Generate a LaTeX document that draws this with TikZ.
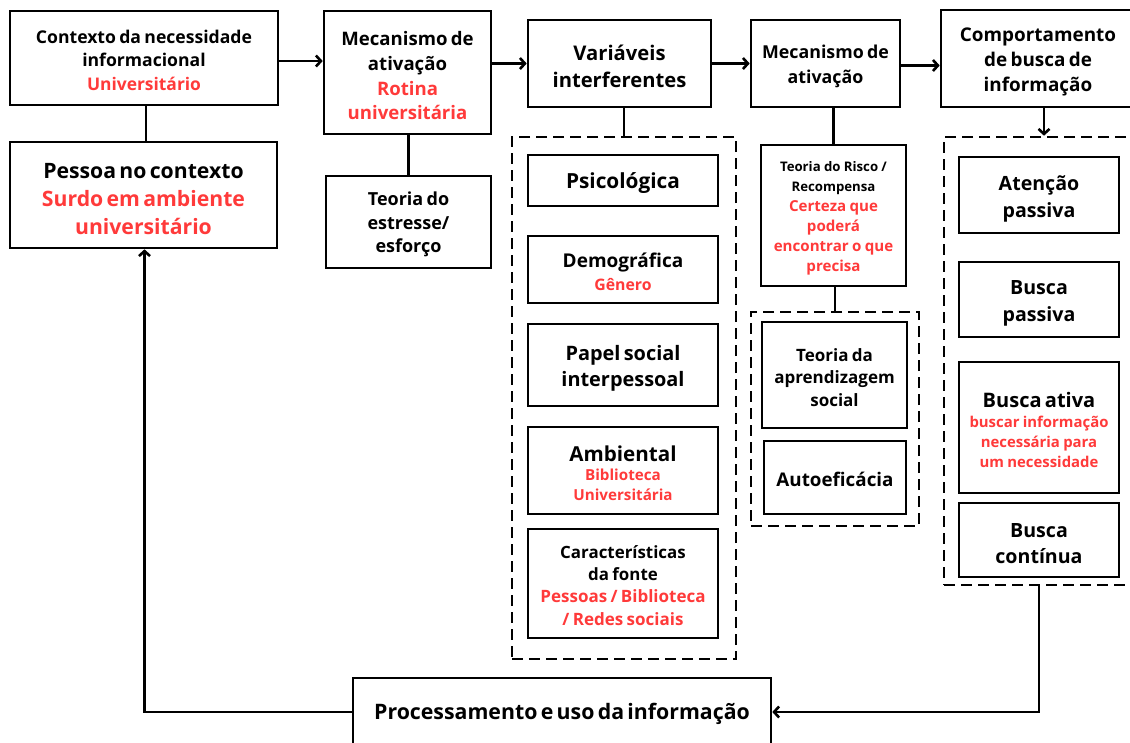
\documentclass[tikz,border=0pt]{standalone}
\usepackage{fontspec}
\setmainfont{Open Sans}
\usetikzlibrary{arrows.meta}
\definecolor{rd}{RGB}{255,58,58}
\newcommand\fs[2]{\fontsize{#1}{#2}\selectfont}
\tikzset{
  bx/.style={draw, line width=2.6pt, fill=white, align=center, inner sep=0pt, font=\bfseries,
    execute at begin node={\par\vspace*{-5pt}}},
  dbx/.style={draw, line width=2.6pt, dash pattern=on 11pt off 6pt, inner sep=0pt},
  ln/.style={line width=2.6pt},
  arr/.style={line width=2.6pt, -{Straight Barb[length=5pt,width=11pt]}},
}
\begin{document}
\begin{tikzpicture}[x=1pt,y=-1pt]
\clip (0,0) rectangle (1130,742);
\fill[white] (0,0) rectangle (1130,742);

% dashed groups
\node[dbx, minimum width=224pt, minimum height=522pt] (d1) at (624,398) {};
\node[dbx, minimum width=168pt, minimum height=214pt] (d2) at (835,419) {};
\node[dbx, minimum width=190pt, minimum height=448pt] (d3) at (1039,361) {};

% column 1
\node[bx, minimum width=268pt, minimum height=94pt, text width=264pt] (ctx) at (144,58)
 {{\fs{17.6}{23.5}Contexto da necessidade\\informacional\par}{\fs{17.4}{24}\color{rd}Universitário\par}};
\node[bx, minimum width=267pt, minimum height=106pt, text width=264pt] (pes) at (143.5,195)
 {{\fs{21.2}{28}Pessoa no contexto\par}{\fs{21.2}{28}\color{rd}Surdo em ambiente\\universitário\par}};

% column 2
\node[bx, minimum width=167pt, minimum height=123pt, text width=164pt] (mec1) at (407.5,72.5)
 {{\fs{18.6}{25.5}Mecanismo de\\ativação\par}{\fs{18.6}{24.5}\color{rd}Rotina\\universitária\par}};
\node[bx, minimum width=165pt, minimum height=92pt, text width=162pt] (est) at (408.5,222)
 {{\fs{18}{23.5}Teoria do\\estresse/\\esforço\par}};

% column 3
\node[bx, minimum width=183pt, minimum height=87pt, text width=180pt] (var) at (619.5,63.5)
 {{\fs{20.2}{27}Variáveis\\interferentes\par}};
\node[bx, minimum width=190pt, minimum height=51pt, text width=186pt] (psi) at (623,180.5)
 {{\fs{20.8}{26}Psicológica\par}};
\node[bx, minimum width=190pt, minimum height=67pt, text width=186pt] (dem) at (623,269.5)
 {{\fs{19}{24}Demográfica\par}{\fs{15.8}{23}\color{rd}Gênero\par}};
\node[bx, minimum width=190pt, minimum height=82pt, text width=186pt] (pap) at (623,365)
 {{\fs{19.9}{26}Papel social\\interpessoal\par}};
\node[bx, minimum width=190pt, minimum height=87pt, text width=186pt] (amb) at (623,470.5)
 {{\fs{20.6}{26}Ambiental\par}{\fs{15.2}{19.5}\color{rd}Biblioteca\\Universitária\par}};
\node[bx, minimum width=190pt, minimum height=109pt, text width=186pt] (car) at (623,583.5)
 {{\fs{16.9}{22}Características\\da fonte\par}{\fs{17}{22.5}\color{rd}Pessoas / Biblioteca\\/ Redes sociais\par}};

% column 4
\node[bx, minimum width=149pt, minimum height=87pt, text width=146pt] (mec2) at (825.5,63.5)
 {{\fs{17.8}{25}Mecanismo de\\ativação\par}};
\node[bx, minimum width=145pt, minimum height=141pt, text width=142pt] (ris) at (833.5,215.5)
 {{\fs{13.2}{20}Teoria do Risco /\\Recompensa\par}{\fs{15.1}{20}\color{rd}Certeza que\\poderá\\encontrar o que\\precisa\par}};
\node[bx, minimum width=145pt, minimum height=106pt, text width=142pt] (apr) at (834.5,375)
 {{\fs{17}{22.5}Teoria da\\aprendizagem\\social\par}};
\node[bx, minimum width=142pt, minimum height=73pt, text width=139pt] (aut) at (835,477.5)
 {{\fs{18.8}{24}Autoeficácia\par}};

% column 5
\node[bx, minimum width=194pt, minimum height=97pt, text width=190pt] (com) at (1038,58.5)
 {{\fs{18.9}{25}Comportamento\\de busca de\\informação\par}};
\node[bx, minimum width=160pt, minimum height=76pt, text width=157pt] (ate) at (1039,195)
 {{\fs{19.6}{27}Atenção\\passiva\par}};
\node[bx, minimum width=160pt, minimum height=75pt, text width=157pt] (bpa) at (1039,299.5)
 {{\fs{19.6}{27}Busca\\passiva\par}};
\node[bx, minimum width=160pt, minimum height=131pt, text width=157pt] (bat) at (1039,427.5)
 {{\fs{20}{25}Busca ativa\par}{\fs{14.9}{20}\color{rd}buscar informação\\necessária para\\um necessidade\par}};
\node[bx, minimum width=160pt, minimum height=74pt, text width=157pt] (bco) at (1039,540)
 {{\fs{19.6}{26}Busca\\contínua\par}};

% bottom
\node[bx, minimum width=418pt, minimum height=68pt, text width=414pt] (pro) at (562,712)
 {{\fs{21.3}{26}Processamento e uso da informação\par}};

% connectors
\draw[arr] ([yshift=-3pt]ctx.east) -- ([yshift=-3pt]ctx.east -| mec1.west);
\draw[arr] (mec1.east |- var.west) -- (var.west);
\draw[arr] (var.east) -- (mec2.west);
\draw[arr] ([yshift=-2pt]mec2.east) -- ([yshift=-2pt]mec2.east -| com.west);
\draw[arr] ([xshift=6pt]com.south) -- ([xshift=6pt]com.south |- d3.north);
\draw[ln] ([xshift=2pt]ctx.south) -- ([xshift=2pt]ctx.south |- pes.north);
\draw[ln] (est.north) -- (est.north |- mec1.south);
\draw[ln] (d1.north |- var.south) -- (d1.north);
\draw[ln] (ris.north |- mec2.south) -- (ris.north);
\draw[ln] (d2.north |- ris.south) -- (d2.north);
\draw[arr] (d3.south) -- (d3.south |- pro.east) -- (pro.east);
\draw[arr] (pro.west) -| ([xshift=1pt]pes.south);
\end{tikzpicture}
\end{document}
